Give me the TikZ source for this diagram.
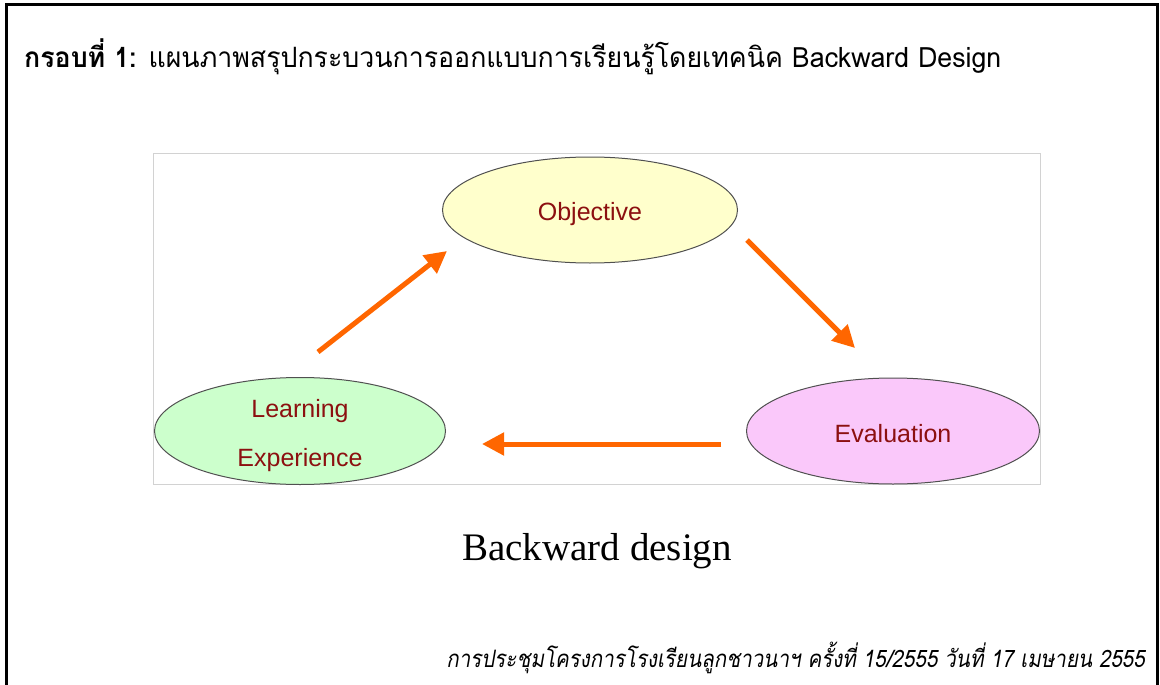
\documentclass[tikz,border=0pt]{standalone}
\usepackage{fontspec}
\setmainfont{Liberation Serif}
\newfontfamily\armfont{Liberation Sans}
\newfontfamily\thaifont[Script=Thai]{Loma}
\newfontfamily\thaiit[Script=Thai,FakeSlant=0.2]{Loma}
\usetikzlibrary{arrows.meta,shapes.geometric}
\definecolor{objfill}{RGB}{255,255,204}
\definecolor{learnfill}{RGB}{204,255,204}
\definecolor{evalfill}{RGB}{250,200,250}
\definecolor{lbl}{RGB}{140,16,16}
\definecolor{arr}{RGB}{255,102,0}
\definecolor{boxgray}{RGB}{210,210,210}
\tikzset{
  ell/.style={ellipse, draw={rgb,255:red,80;green,80;blue,80}, line width=1pt, inner sep=0pt},
  lbltext/.style={text=lbl, font=\armfont\fontsize{25}{49}\selectfont, align=center},
  orangearrow/.style={draw=arr, line width=5pt, -{Triangle[length=22pt,width=22pt]}},
}
\begin{document}
\begin{tikzpicture}[x=1pt,y=-1pt]
\useasboundingbox (0,0) rectangle (1160,685);
% frame
\draw[line width=3pt] (6,686) -- (6,5) -- (1157,5) -- (1157,686);
% title
\node[anchor=base west, inner sep=0pt] (title) at (24,67)
  {\scalebox{0.954}[1]{\thaifont\fontsize{28}{32}\selectfont\textbf{กรอบที่ 1:} แผนภาพสรุปกระบวนการออกแบบการเรียนรู้โดยเทคนิค Backward Design}};
% inner image box
\draw[boxgray, line width=1pt] (153,153) rectangle (1040,484);
% ellipses
\node[ell, fill=objfill, minimum width=295pt, minimum height=106pt] (obj) at (590,210) {};
\node[lbltext] at ([yshift=-4pt]obj.center) {Objective};
\node[ell, fill=learnfill, minimum width=291pt, minimum height=107pt] (learn) at (300,431) {};
\node[lbltext] at ([yshift=-5pt]learn.center) {Learning\\Experience};
\node[ell, fill=evalfill, minimum width=293pt, minimum height=106pt] (eval) at (893,431) {};
\node[lbltext] at ([yshift=-3pt]eval.center) {Evaluation};
% arrows
\coordinate (a1s) at (318,352);
\coordinate (a1e) at (447,251);
\coordinate (a2s) at (747,240);
\coordinate (a2e) at (855,348);
\coordinate (a3s) at (721,444);
\coordinate (a3e) at (482,444);
\draw[orangearrow] (a1s) -- (a1e);
\draw[orangearrow] (a2s) -- (a2e);
\draw[orangearrow] (a3s) -- (a3e);
% caption
\node[anchor=base, inner sep=0pt] (cap) at (597,560) {\fontsize{39}{44}\selectfont Backward design};
% footer
\node[anchor=base east, inner sep=0pt] (foot) at (1145,667)
  {\scalebox{0.857}[1]{\thaiit\fontsize{24}{28}\selectfont การประชุมโครงการโรงเรียนลูกชาวนาฯ ครั้งที่ 15/2555 วันที่ 17 เมษายน 2555}};
\end{tikzpicture}
\end{document}
